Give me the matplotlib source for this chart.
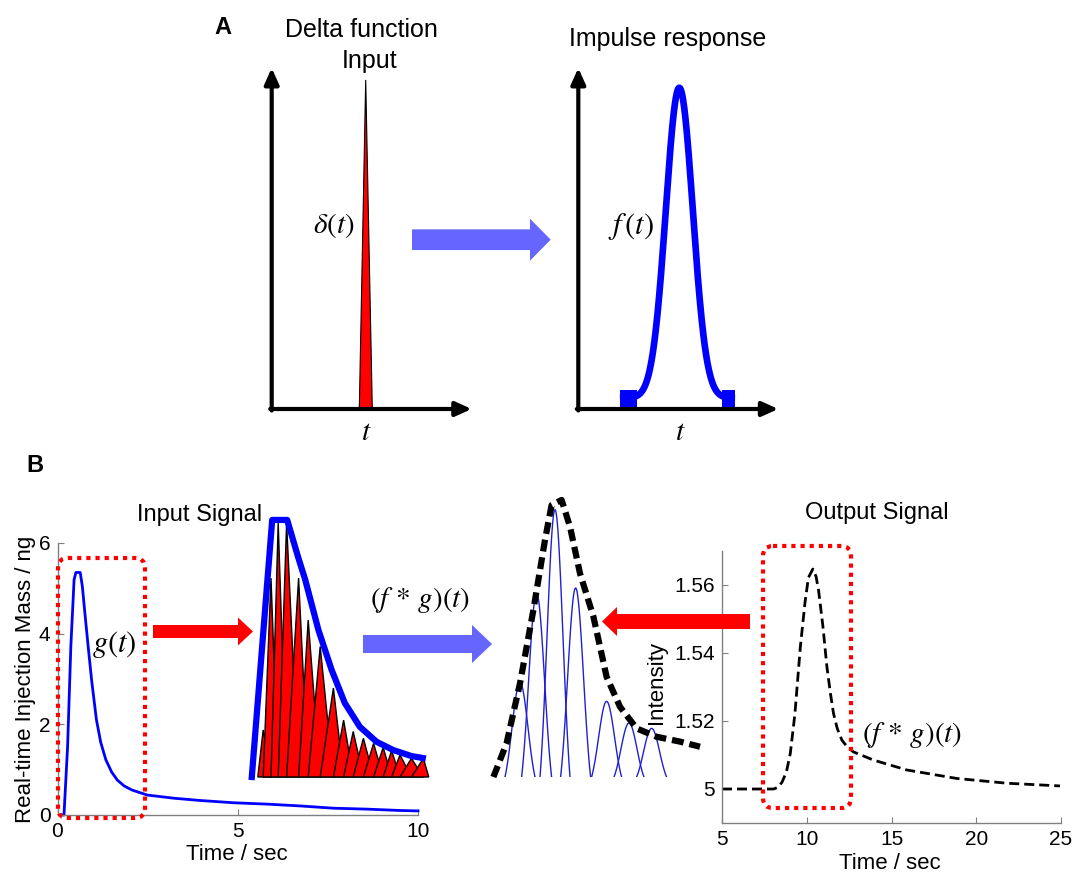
import matplotlib.pyplot as plt
import numpy as np
from matplotlib.patches import FancyArrow, FancyBboxPatch

plt.rcParams['font.family'] = ['Liberation Sans', 'DejaVu Sans']
plt.rcParams['mathtext.fontset'] = 'stix'

W, H = 1074, 874

# ---- panel A: unit impulse and the response it gives ----
delta_t = [4.38, 4.70, 5.03]
delta_y = [0.0, 0.965, 0.0]
resp_center = 5.05
resp_sigma = 0.675
resp_peak = 0.91
resp_base = 0.032
resp_range = (2.08, 7.84)
resp_feet = [(2.08, 2.93), (7.17, 7.84)]

# ---- panel B: injection profile g(t) ----
g_time = [0.10, 0.18, 0.28, 0.37, 0.46, 0.51, 0.63, 0.69, 0.76, 0.85, 0.95, 1.08,
          1.20, 1.34, 1.50, 1.66, 1.85, 2.07, 2.49, 3.23, 3.96, 4.88, 5.81, 6.73,
          7.65, 8.57, 9.49, 10.0]
g_mass = [0.0, 0.0, 1.51, 3.72, 5.19, 5.35, 5.35, 5.04, 4.45, 3.72, 2.95, 2.10,
          1.60, 1.22, 0.95, 0.77, 0.64, 0.55, 0.44, 0.37, 0.32, 0.27, 0.24, 0.20,
          0.15, 0.13, 0.10, 0.09]

# zoomed input: envelope and the pulses it is split into
env_t = [0.03, 0.37, 0.62, 0.80, 0.92, 1.14, 1.36, 1.58, 1.83, 2.11, 2.39, 2.69, 2.88]
env_y = [0.0, 6.5, 6.5, 5.57, 4.99, 3.72, 2.71, 1.87, 1.27, 0.89, 0.68, 0.53, 0.48]
pulse_t = [0.22, 0.35, 0.47, 0.61, 0.81, 0.97, 1.17, 1.39, 1.56, 1.72, 1.89,
           2.06, 2.22, 2.36, 2.50, 2.69, 2.89]
pulse_h = [1.19, 5.03, 6.42, 6.42, 5.03, 3.97, 3.30, 2.25, 1.44, 1.15, 0.98,
           0.85, 0.75, 0.67, 0.56, 0.47, 0.47]
pulse_start, pulse_end = 0.13, 2.98

# convolution: shifted impulse responses and their sum
comp_center = [2.00, 2.83, 3.75, 4.78, 6.33, 7.45, 8.58]
comp_height = [0.35, 0.68, 0.99, 0.70, 0.28, 0.20, 0.18]
comp_sigma = 0.40
comp_half = 0.75
sum_t = [0.67, 1.33, 2.00, 2.67, 3.25, 3.58, 4.08, 4.50, 5.00, 5.67, 6.33,
         7.00, 7.83, 8.83, 10.0, 11.0]
sum_y = [0.0, 0.125, 0.347, 0.619, 0.878, 1.007, 1.026, 0.927, 0.754, 0.594,
         0.371, 0.26, 0.18, 0.149, 0.131, 0.112]

# output signal
out_time = [5.0, 8.05, 8.3, 8.54, 8.8, 9.03, 9.3, 9.62, 9.9, 10.1, 10.36, 10.55,
            10.7, 10.95, 11.19, 11.4, 11.58, 11.8, 12.07, 12.4, 12.76, 13.94,
            15.9, 18.85, 21.8, 24.94]
out_int = [1.5, 1.5, 1.5005, 1.502, 1.505, 1.5105, 1.522, 1.5417, 1.555, 1.5622,
           1.5647, 1.5625, 1.5583, 1.548, 1.5359, 1.528, 1.5222, 1.5178, 1.5144,
           1.5123, 1.5109, 1.5085, 1.5056, 1.5031, 1.5017, 1.5009]
out_yticks = [1.5, 1.52, 1.54, 1.56]
out_yticklabels = ['5', '1.52', '1.54', '1.56']

fig = plt.figure(figsize=(W / 100, H / 100), dpi=100)


def px_axes(x0, y0, x1, y1):
    ax = fig.add_axes([x0 / W, 1 - y1 / H, (x1 - x0) / W, (y1 - y0) / H])
    ax.set_facecolor('none')
    return ax


def matlab_style(ax):
    for s in ['top', 'right']:
        ax.spines[s].set_visible(False)
    for s in ['left', 'bottom']:
        ax.spines[s].set_color('#808080')
        ax.spines[s].set_linewidth(1.0)
    ax.tick_params(direction='in', length=4, labelsize=15, color='#808080', pad=5)


# A left: delta spike
axA1 = px_axes(271.7, 68, 471.7, 409)
axA1.fill(delta_t, delta_y, facecolor='red', edgecolor='black', lw=0.8)
axA1.set_xlim(0, 10)
axA1.set_ylim(0, 1)
axA1.axis('off')

# A right: impulse response
axA2 = px_axes(578.3, 68, 778.3, 409)
tt = np.linspace(resp_range[0], resp_range[1], 400)
ff = resp_base + resp_peak * np.exp(-0.5 * ((tt - resp_center) / resp_sigma) ** 2)
axA2.plot(tt, ff, color='blue', lw=4.8, solid_capstyle='butt')
for a, b in resp_feet:
    axA2.fill_between([a, b], 0.007, 0.056, color='blue', lw=0)
axA2.set_xlim(0, 10)
axA2.set_ylim(0, 1)
axA2.axis('off')

# B left: g(t)
axB1 = px_axes(57.5, 543, 418, 815)
axB1.plot(g_time, g_mass, color='blue', lw=2, clip_on=False)
axB1.set_xlim(0, 10)
axB1.set_ylim(0, 6)
axB1.set_xticks([0, 5, 10])
axB1.set_yticks([0, 2, 4, 6])
matlab_style(axB1)
axB1.set_xlabel('Time / sec', fontsize=16)
axB1.set_ylabel('Real-time Injection Mass / ng', fontsize=16)
axB1.xaxis.set_label_coords(0.498, -0.107)
axB1.yaxis.label.set_va('center')
axB1.yaxis.set_label_coords(-0.09, 0.5)

# B inset: input split into overlapping triangular pulses
axIn = px_axes(250, 516, 430, 777)
edges = [pulse_start] + pulse_t + [pulse_end]
for i, (p, h) in enumerate(zip(pulse_t, pulse_h)):
    axIn.fill([edges[i], p, edges[i + 2]], [0, h, 0], facecolor='red',
              edgecolor='black', lw=1.0, clip_on=False)
axIn.plot(env_t, env_y, color='blue', lw=4.5, clip_on=False, zorder=3,
          solid_joinstyle='round')
axIn.set_xlim(0, 3)
axIn.set_ylim(0, 6.6)
axIn.axis('off')

# B middle: sum of shifted responses (each cut to zero at +/- comp_half)
axC = px_axes(480, 490, 710, 777)
edge = np.exp(-0.5 * (comp_half / comp_sigma) ** 2)
for c, h in zip(comp_center, comp_height):
    xs = np.linspace(c - comp_half, c + comp_half, 120)
    g = np.exp(-0.5 * ((xs - c) / comp_sigma) ** 2)
    axC.plot(xs, h * (g - edge) / (1 - edge), color='#2020d0', lw=1)
axC.plot(sum_t, sum_y, color='black', lw=4.5, dashes=(1.9, 0.95), clip_on=False)
axC.set_xlim(0, 11.5)
axC.set_ylim(0, 1.063)
axC.axis('off')

# B right: output signal
axB3 = px_axes(722, 551, 1061, 823)
axB3.plot(out_time, out_int, color='black', lw=2, dashes=(3.6, 1.8))
axB3.set_xlim(5, 25)
axB3.set_ylim(1.49, 1.57)
axB3.set_xticks([5, 10, 15, 20, 25])
axB3.set_yticks(out_yticks)
axB3.set_yticklabels(out_yticklabels)
matlab_style(axB3)
axB3.set_xlabel('Time / sec', fontsize=16)
axB3.set_ylabel('Intensity', fontsize=16)
axB3.xaxis.set_label_coords(0.496, -0.11)
axB3.yaxis.label.set_va('center')
axB3.yaxis.set_label_coords(-0.192, 0.515)

# overlay in pixel units for arrows, boxes and labels
ov = fig.add_axes([0, 0, 1, 1])
ov.set_xlim(0, W)
ov.set_ylim(H, 0)
ov.axis('off')
ov.set_zorder(10)
ov.set_facecolor('none')

axis_arrow = dict(arrowstyle='-|>,head_length=0.8,head_width=0.36', lw=3, color='black',
                  shrinkA=0, shrinkB=0, mutation_scale=12)
for x0, x1 in [(271.7, 471.7), (578.3, 778.3)]:
    ov.annotate('', xy=(x0, 68), xytext=(x0, 410.5), arrowprops=axis_arrow)
    ov.annotate('', xy=(x1, 409), xytext=(x0 - 1.5, 409), arrowprops=axis_arrow)

ov.add_patch(FancyArrow(412, 239.7, 138.7, 0, width=20.7, head_width=42, head_length=20.7,
                        length_includes_head=True, color='#6666ff', lw=0))
ov.add_patch(FancyArrow(153, 631.5, 100, 0, width=13, head_width=28, head_length=15,
                        length_includes_head=True, color='red', lw=0))
ov.add_patch(FancyArrow(363, 644, 129, 0, width=18, head_width=38, head_length=20,
                        length_includes_head=True, color='#6666ff', lw=0))
ov.add_patch(FancyArrow(750, 621.5, -148, 0, width=15, head_width=29, head_length=15,
                        length_includes_head=True, color='red', lw=0))

for (bx, by, bw, bh) in [(58, 558, 87, 260), (763, 546, 88, 262)]:
    ov.add_patch(FancyBboxPatch((bx, by), bw, bh, boxstyle='round,pad=0,rounding_size=10',
                                fill=False, ec='red', lw=3, linestyle=(0, (1, 1.2))))

txt = dict(ha='center', va='center', color='black')
ov.text(223, 27, 'A', fontsize=17, fontweight='bold', **txt)
ov.text(361.7, 30, 'Delta function', fontsize=18, **txt)
ov.text(369.5, 61, 'Input', fontsize=18, **txt)
ov.text(668, 39, 'Impulse response', fontsize=18, **txt)
ov.text(334, 225, r'$\delta(t)$', fontsize=21, **txt)
ov.text(366, 432, r'$t$', fontsize=21, **txt)
ov.text(631, 226, r'$f\,(t)$', fontsize=22, **txt)
ov.text(680, 432, r'$t$', fontsize=21, **txt)
ov.text(35, 465, 'B', fontsize=17, fontweight='bold', **txt)
ov.text(200, 515, 'Input Signal', fontsize=17, **txt)
ov.text(114, 645, r'$g(t)$', fontsize=22, **txt)
ov.text(420, 600, r'$(f\,*\,g)(t)$', fontsize=21, **txt)
ov.text(877, 513, 'Output Signal', fontsize=17, **txt)
ov.text(912, 735, r'$(f\,*\,g)(t)$', fontsize=21, **txt)

fig.savefig('out.png', dpi=100)
